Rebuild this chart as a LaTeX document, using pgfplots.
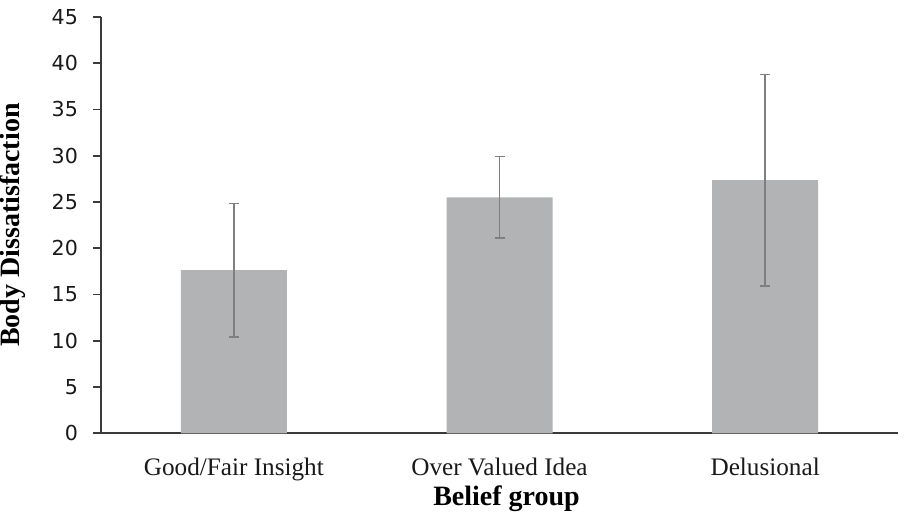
\documentclass[border=0pt]{standalone}
\usepackage{fontspec}
\setmainfont{Liberation Serif}
\newfontfamily\tickfont{DejaVu Sans}
\usepackage{pgfplots}
\pgfplotsset{compat=1.18}
\definecolor{barg}{HTML}{B2B3B5}
\definecolor{errg}{HTML}{7F7F7F}
\definecolor{axg}{HTML}{3A3A3A}
\begin{document}
\begin{tikzpicture}
\useasboundingbox (0,0) rectangle (452pt,258pt);
\begin{axis}[
  at={(50.5pt,41.35pt)}, anchor=south west,
  scale only axis,
  width=398.5pt, height=208.2pt,
  xmin=-0.5, xmax=2.5, ymin=0, ymax=45,
  axis x line*=bottom, axis y line*=left,
  axis line style={axg, line width=0.9pt},
  ytick={0,5,...,45},
  xtick={0,1,2},
  xticklabels={Good/Fair Insight, Over Valued Idea, Delusional},
  x tick style={draw=none},
  y tick style={axg, line width=0.9pt},
  tick align=outside, major tick length=4pt,
  /pgf/number format/assume math mode=true,
  yticklabel style={font=\tickfont\fontsize{10.3}{12}\selectfont, text=black!90, xshift=-4pt},
  xticklabel style={font=\fontsize{12.6}{14}\selectfont, anchor=base, yshift=-16.9pt, text=black!90},
  xlabel={\textbf{Belief group}},
  ylabel={\textbf{Body Dissatisfaction}},
  xlabel style={font=\fontsize{14}{16}\selectfont, at={(axis description cs:0.5,0)}, anchor=base, yshift=-35.9pt, xshift=3.5pt},
  ylabel style={font=\fontsize{14}{16}\selectfont, at={(axis description cs:-0.1104,0.5)}, anchor=center},
  clip=false,
]
\addplot[ybar, bar width=53pt, fill=barg, draw=none, bar shift=0pt,
  error bars/.cd, y dir=both, y explicit,
  error bar style={errg, line width=0.85pt},
  error mark options={errg, line width=0.85pt, mark size=2.5pt, rotate=90}]
coordinates {
  (0,17.64) +- (0,7.21)
  (1,25.49) +- (0,4.41)
  (2,27.36) +- (0,11.43)
};
\end{axis}
\end{tikzpicture}
\end{document}
